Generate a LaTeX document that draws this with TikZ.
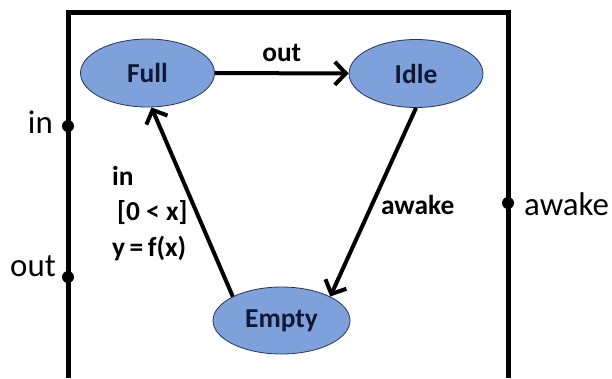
\documentclass[tikz,border=0pt]{standalone}
\usepackage{fontspec}
\setmainfont{Carlito}
\usepackage{tikz}
\usetikzlibrary{shapes.geometric}
\usetikzlibrary{arrows.meta}

\definecolor{statefill}{RGB}{126,161,219}
\definecolor{stateline}{RGB}{38,52,88}
\definecolor{statetext}{RGB}{16,24,52}

\begin{document}
\begin{tikzpicture}[x=1bp, y=-1bp,
    state/.style={ellipse, draw=stateline, line width=0.8bp, fill=statefill,
        text=statetext, minimum width=134bp, minimum height=68bp,
        font=\bfseries\fontsize{27.5}{30}\selectfont},
    trans/.style={-{Straight Barb[length=11bp, width=23bp]}, line width=4bp},
    lbl/.style={font=\bfseries\fontsize{27.5}{35.5}\selectfont, inner sep=0pt},
    dot/.style={circle, fill=black, inner sep=0pt, minimum size=12bp},
    port/.style={font=\fontsize{33}{36}\selectfont, inner sep=0pt}]
    \useasboundingbox (0,0) rectangle (612,378);
    \draw[line width=5bp] (68,378) -- (68,12.5) -- (508,12.5) -- (508,378);

    \node[dot] (pin) at (68,126) {};
    \node[dot] (pout) at (68,277) {};
    \node[dot] (pawake) at (508,203) {};
    \node[port, anchor=base east] (inlbl) at (53,133) {in};
    \node[port, anchor=base east] (outlbl) at (56,276) {out};
    \node[port, anchor=base west] (awakelbl) at (524,215) {awake};

    \node[state] (full) at (147.5,73) {Full};
    \node[state] (idle) at (416,73.5) {Idle};
    \node[state, minimum width=137bp, minimum height=67bp] (empty) at (281.5,320.5) {Empty};

    \draw[trans] (full) -- (idle) node[lbl, midway, above=10bp] {out};
    \draw[trans] (idle.south) -- (empty.north east) node[lbl, midway, right=6bp, yshift=-3bp] {awake};
    \draw[trans] (empty.north west) -- ([xshift=4bp]full.south);
    \node[lbl, align=left, anchor=north west] (guard) at (112,166)
        {in\\\hspace*{5bp}[0 < x]\\y\,=\,f(x)};
\end{tikzpicture}
\end{document}
